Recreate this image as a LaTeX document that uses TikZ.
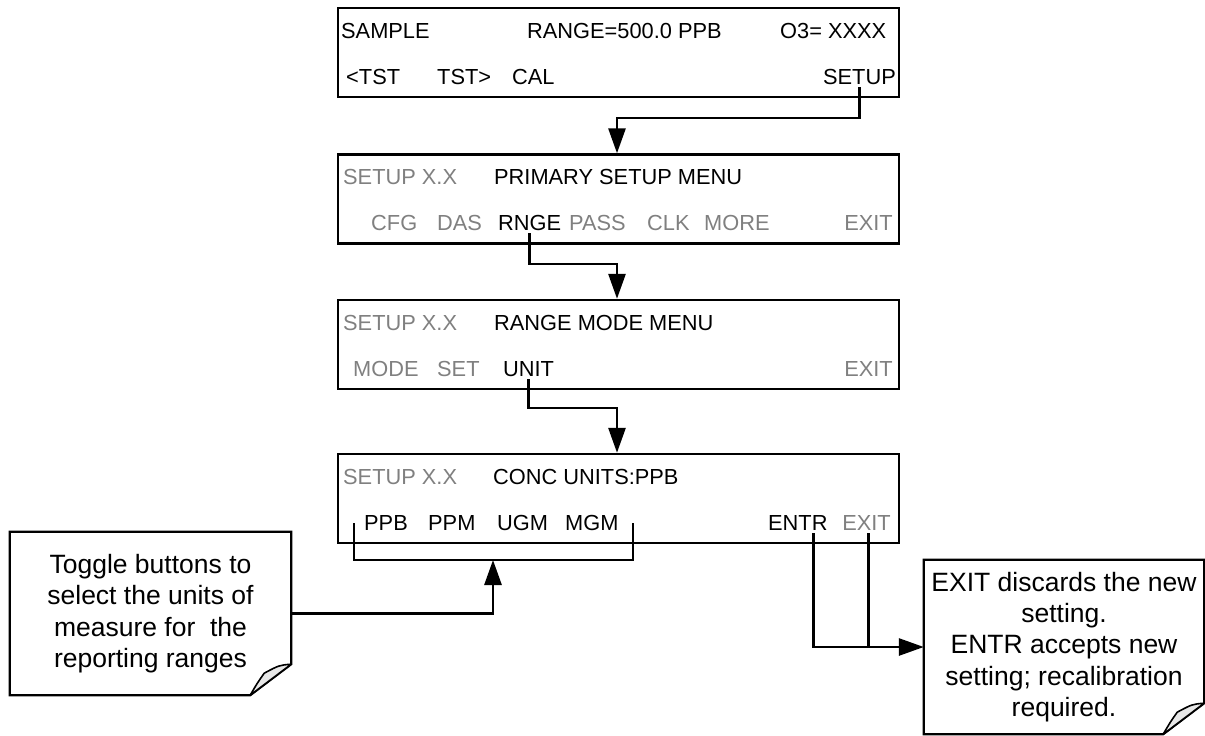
\documentclass[tikz,border=0pt]{standalone}
\usepackage{fontspec}
\setmainfont{Liberation Sans}
\usetikzlibrary{arrows.meta}
\definecolor{dim}{gray}{0.5}
\begin{document}
\begin{tikzpicture}[x=1pt,y=-1pt,
  box/.style={draw,line width=2.4pt,minimum width=561pt,minimum height=89pt,inner sep=0pt},
  lbl/.style={anchor=base west,inner sep=0pt,font=\fontsize{21.8}{26}\selectfont},
  off/.style={lbl,text=dim},
  conn/.style={line width=2.8pt},
  arr/.style={conn,-{Triangle[length=25pt,width=17pt]}},
  notetext/.style={inner sep=0pt,align=center,font=\fontsize{26.5}{31.3}\selectfont},
  noteline/.style={draw,line width=2.2pt,line join=miter},
  flap/.style={draw,line width=1.6pt,fill=gray!18,line join=round}]
\useasboundingbox (0,0) rectangle (1205,736);

% screens
\node[box] (b1) at (618.5,52.5) {};
\node[box] (b2) at (618.5,199) {};
\node[box] (b3) at (618.5,344.5) {};
\node[box] (b4) at (618.5,498.5) {};

% screen 1
\node[lbl] (sample) at (341,38) {SAMPLE};
\node[lbl] (range) at (527,38) {RANGE=500.0 PPB};
\node[lbl] (o3) at (780,38) {O3= XXXX};
\node[lbl] (tstl) at (346,84) {<TST};
\node[lbl] (tstr) at (437,84) {TST>};
\node[lbl] (cal) at (512,84) {CAL};
\node[lbl,anchor=base east] (setup) at (896,84) {SETUP};

% screen 2
\node[off] (s2) at (343,184) {SETUP X.X};
\node[lbl] (t2) at (494,184) {PRIMARY SETUP MENU};
\node[off] (cfg) at (371,230) {CFG};
\node[off] (das) at (437,230) {DAS};
\node[lbl] (rnge) at (498,230) {RNGE};
\node[off] (pass) at (569,230) {PASS};
\node[off] (clk) at (647,230) {CLK};
\node[off] (more) at (704,230) {MORE};
\node[off,anchor=base east] (exit2) at (893,230) {EXIT};

% screen 3
\node[off] (s3) at (343,330) {SETUP X.X};
\node[lbl] (t3) at (494,330) {RANGE MODE MENU};
\node[off] (mode) at (353,376) {MODE};
\node[off] (set) at (437,376) {SET};
\node[lbl] (unit) at (503,376) {UNIT};
\node[off,anchor=base east] (exit3) at (893,376) {EXIT};

% screen 4
\node[off] (s4) at (343,484) {SETUP X.X};
\node[lbl] (t4) at (493,484) {CONC UNITS:PPB};
\node[lbl] (ppb) at (364,530) {PPB};
\node[lbl] (ppm) at (428,530) {PPM};
\node[lbl] (ugm) at (497,530) {UGM};
\node[lbl] (mgm) at (565,530) {MGM};
\node[lbl] (entr) at (768,530) {ENTR};
\node[off,anchor=base east] (exit4) at (891,530) {EXIT};

% notes
\node[notetext,minimum width=281pt,minimum height=163pt] (n1) at (150.5,613.5)
  {Toggle buttons to\\select the units of\\measure for\ \ the\\reporting ranges};
\node[notetext,minimum width=280pt,minimum height=174pt] (n2) at (1064,647)
  {EXIT discards the new\\setting.\\ENTR accepts new\\setting; recalibration\\required.};

\foreach \n in {n1,n2}{
  \draw[noteline] (\n.north west) -- (\n.north east) -- ([yshift=31pt]\n.south east)
    -- ([xshift=-41pt]\n.south east) -- (\n.south west) -- cycle;
  \draw[flap] ([yshift=31pt]\n.south east)
    .. controls ([shift={(-12pt,30pt)}]\n.south east) .. ([shift={(-27pt,22pt)}]\n.south east)
    .. controls ([shift={(-34pt,12pt)}]\n.south east) .. ([xshift=-41pt]\n.south east) -- cycle;
}

% connectors
\coordinate (e1) at (617,118);
\coordinate (e2) at (617,264);
\coordinate (e3) at (617,408);
\draw[arr] ([yshift=-3pt]setup.south) |- (e1) -- (e1 |- b2.north);
\draw[arr] ([yshift=-3pt]rnge.south) |- (e2) -- (e2 |- b3.north);
\draw[arr] ([yshift=-3pt]unit.south) |- (e3) -- (e3 |- b4.north);

% bracket round the unit keys
\coordinate (bkl) at (354,523);
\coordinate (bkr) at (633,560);
\coordinate (bkm) at (493,560);
\draw[conn] (bkl) |- (bkr) -- ++(0,-37);
\draw[arr] (n1.east) -| (bkm);

% ENTR / EXIT to note
\draw[arr] ([xshift=16pt,yshift=-3pt]entr.south) |- (n2.west);
\draw[conn] ([xshift=2pt,yshift=-3pt]exit4.south) -- ([xshift=2pt]exit4.south |- n2.west);
\end{tikzpicture}
\end{document}
